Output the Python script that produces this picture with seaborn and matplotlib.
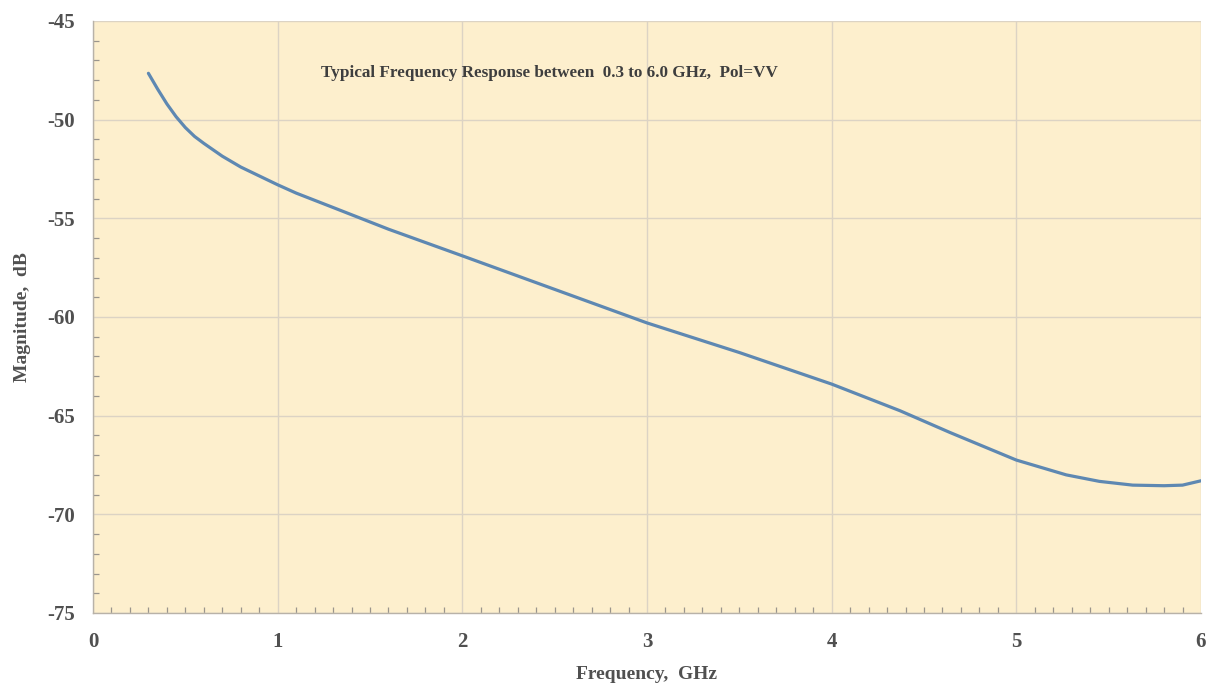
import numpy as np
import pandas as pd
import matplotlib
matplotlib.use("Agg")
import matplotlib.pyplot as plt
from matplotlib.ticker import MultipleLocator
import seaborn as sns

# Measured response, VV polarisation
freq_ghz = [0.3, 0.35, 0.4, 0.45, 0.5, 0.55, 0.6, 0.7, 0.8, 0.9, 1.0, 1.1, 1.3,
            1.6, 2.0, 2.5, 3.0, 3.5, 4.0, 4.37, 4.64, 5.0, 5.27, 5.45, 5.63, 5.8,
            5.9, 6.0]
magnitude_db = [-47.65, -48.45, -49.2, -49.85, -50.4, -50.85, -51.2, -51.85,
                -52.4, -52.85, -53.3, -53.72, -54.45, -55.55, -56.9, -58.6, -60.3,
                -61.8, -63.4, -64.75, -65.85, -67.25, -68.0, -68.33, -68.52,
                -68.55, -68.52, -68.3]

title_text = "Typical Frequency Response between  0.3 to 6.0 GHz,  Pol=VV"
x_label = "Frequency,  GHz"
y_label = "Magnitude,  dB"

df = pd.DataFrame({"freq": freq_ghz, "mag": magnitude_db})

sns.set_style("ticks")
plt.rcParams["font.family"] = ["Liberation Serif", "DejaVu Serif"]
plt.rcParams["font.weight"] = "bold"
plt.rcParams["axes.unicode_minus"] = False

fig = plt.figure(figsize=(12.16, 6.9), dpi=100, facecolor="white")
ax = fig.add_axes([93 / 1216, 1 - 613 / 690, (1201 - 93) / 1216, (613 - 21) / 690])
ax.set_facecolor("#FDEFCD")

sns.lineplot(data=df, x="freq", y="mag", ax=ax, color="#5E88B2", linewidth=2.3,
             zorder=3)

ax.set_xlim(0, 6)
ax.set_ylim(-75, -45)
ax.xaxis.set_major_locator(MultipleLocator(1))
ax.xaxis.set_minor_locator(MultipleLocator(0.1))
ax.yaxis.set_major_locator(MultipleLocator(5))
ax.yaxis.set_minor_locator(MultipleLocator(1))

ax.grid(True, which="major", color="#DCD3C4", linewidth=1.0, zorder=1)
ax.set_axisbelow(True)

for side in ["left", "bottom", "top", "right"]:
    ax.spines[side].set_color("#B8B2A8")
    ax.spines[side].set_linewidth(1.0)
ax.spines["top"].set_visible(False)
ax.spines["right"].set_visible(False)

ax.tick_params(which="both", direction="in", colors="#9A958D")
ax.tick_params(which="major", length=0, pad=14, labelsize=15, labelcolor="#505050")
ax.tick_params(which="minor", length=4, width=0.9)
ax.tick_params(axis="y", which="major", pad=13)
for lbl in ax.get_xticklabels() + ax.get_yticklabels():
    lbl.set_fontweight("bold")

ax.set_xlabel(x_label, fontsize=14, fontweight="bold", color="#505050", labelpad=10)
ax.set_ylabel(y_label, fontsize=14, fontweight="bold", color="#505050", labelpad=12)

ax.text(0.4116, 0.913, title_text, transform=ax.transAxes, ha="center", va="center",
        fontsize=12.3, fontweight="bold", color="#3E3E3E")

fig.savefig("out.png", dpi=100, facecolor="white")
